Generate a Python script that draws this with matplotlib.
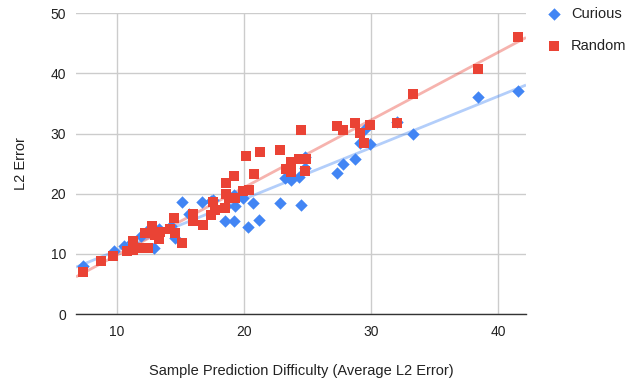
import numpy as np
import matplotlib
matplotlib.use("Agg")
import matplotlib.pyplot as plt

plt.rcParams['font.family'] = ['Liberation Sans', 'DejaVu Sans']

curious_x = [7.35, 9.8, 10.6, 11.2, 11.9, 12.4, 12.7, 12.9, 13.3, 14.3, 14.6, 15.1, 15.7,
             16.7, 17.45, 17.6, 18.6, 19.3, 19.9, 19.2, 20.7, 18.5, 19.2, 20.3, 21.2, 22.8,
             24.5, 23.2, 23.7, 24.3, 24.8, 24.8, 27.3, 27.8, 28.7, 29.1, 29.5, 29.9, 32.0,
             33.3, 38.4, 41.55]
curious_y = [7.9, 10.4, 11.3, 12.0, 13.0, 13.8, 14.3, 11.0, 14.1, 14.7, 12.7, 18.6, 16.7,
             18.7, 18.8, 19.0, 17.9, 17.9, 19.3, 19.8, 18.5, 15.5, 15.5, 14.4, 15.6, 18.5,
             18.2, 22.6, 22.2, 22.8, 26.1, 24.3, 23.5, 25.0, 25.7, 28.4, 30.7, 28.3, 32.0,
             30.0, 36.0, 37.1]

random_x = [7.35, 8.8, 9.7, 10.8, 11.3, 11.3, 11.8, 12.2, 12.45, 12.8, 13.0, 13.4, 13.3,
            14.2, 14.5, 14.6, 15.1, 16.0, 16.0, 16.8, 17.4, 17.7, 17.6, 18.5, 18.6, 18.6,
            19.2, 18.8, 19.3, 19.95, 20.4, 20.2, 21.3, 22.8, 20.8, 23.3, 23.7, 23.7, 24.3,
            24.9, 24.8, 24.5, 27.3, 27.8, 28.7, 29.1, 29.9, 29.45, 32.0, 33.3, 38.4, 41.55]
random_y = [7.0, 8.8, 9.7, 10.4, 12.1, 10.7, 11.0, 13.4, 11.0, 14.6, 13.2, 13.6, 12.5,
            14.1, 15.9, 13.5, 11.8, 16.6, 15.4, 14.8, 16.4, 17.3, 18.6, 17.7, 19.9, 21.8,
            22.9, 19.3, 19.3, 20.5, 20.7, 26.2, 26.9, 27.2, 23.3, 24.1, 25.2, 23.6, 25.7,
            25.7, 23.7, 30.6, 31.3, 30.6, 31.8, 30.1, 31.5, 28.4, 31.8, 36.6, 40.7, 46.1]

series_names = ["Curious", "Random"]
x_ticks = [10, 20, 30, 40]
y_ticks = [0, 10, 20, 30, 40, 50]

blue = "#4285F4"
red = "#EA4335"

fig = plt.figure(figsize=(6.32, 3.84), dpi=100)
ax = fig.add_axes([76/632, 1 - 314/384, 450/632, (314 - 13.3)/384])

xmin, xmax = 6.8, 42.18
ax.set_xlim(xmin, xmax)
ax.set_ylim(0, 50)

# trendlines (least squares)
xs = np.array([xmin, xmax])
for xv, yv, c in [(curious_x, curious_y, blue), (random_x, random_y, red)]:
    m, b = np.polyfit(xv, yv, 1)
    ax.plot(xs, m * xs + b, color=c, alpha=0.4, lw=2, zorder=2, solid_capstyle='butt')

ax.scatter(curious_x, curious_y, marker='D', s=40, color=blue, linewidths=0, zorder=3,
           label=series_names[0])
ax.scatter(random_x, random_y, marker='s', s=60, color=red, linewidths=0, zorder=4,
           label=series_names[1])

ax.set_xticks(x_ticks)
ax.set_yticks(y_ticks)
ax.grid(True, color="#cccccc", lw=1)
ax.set_axisbelow(True)
for s in ['top', 'right', 'left']:
    ax.spines[s].set_visible(False)
ax.spines['bottom'].set_color("#333333")
ax.spines['bottom'].set_linewidth(1)
ax.tick_params(length=0, labelsize=10, colors="#222222", pad=8)
ax.tick_params(axis='y', pad=7)

ax.set_xlabel("Sample Prediction Difficulty (Average L2 Error)", fontsize=10.5,
              color="#222222", labelpad=18)
ax.set_ylabel("L2 Error", fontsize=10.5, color="#222222", labelpad=16)

leg = ax.legend(loc='upper left', bbox_to_anchor=(545/632, 1 - 7/384),
                bbox_transform=fig.transFigure, frameon=False, fontsize=10.5,
                handletextpad=0.6, labelspacing=1.25, handlelength=1.2,
                borderaxespad=0, borderpad=0)
for t in leg.get_texts():
    t.set_color("#222222")

fig.savefig("out.png", dpi=100)
